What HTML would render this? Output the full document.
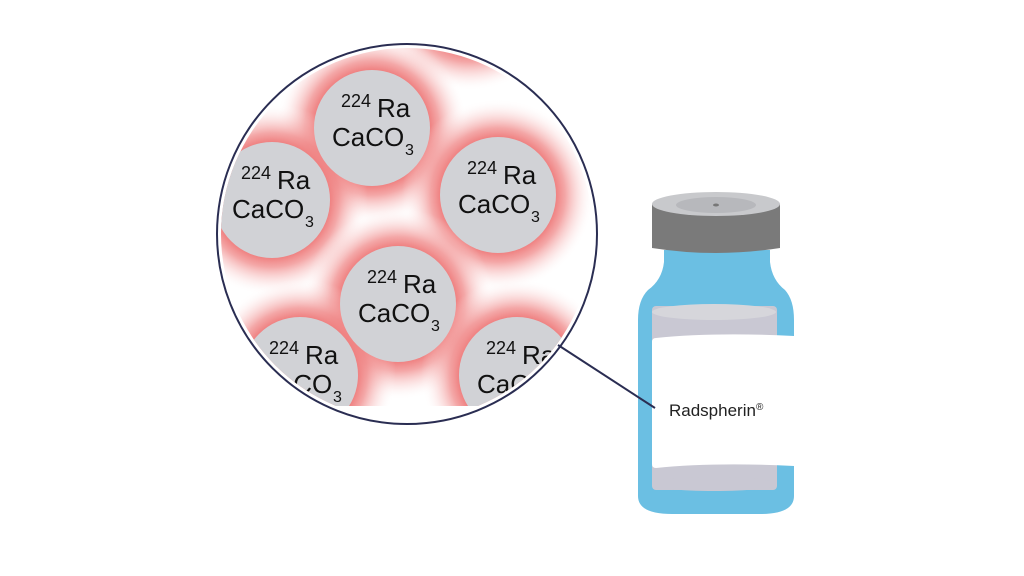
<!DOCTYPE html>
<html><head><meta charset="utf-8"><style>
html,body{margin:0;padding:0;background:#fff;}
svg{display:block;}
text{font-family:"Liberation Sans",sans-serif;fill:#111;}
.b text{stroke:#111;stroke-width:0.4;}
</style></head><body>
<svg width="1024" height="576" viewBox="0 0 1024 576" xmlns="http://www.w3.org/2000/svg">
<defs>
<clipPath id="cc"><circle cx="407" cy="234" r="186"/></clipPath>
<clipPath id="cr"><rect x="0" y="0" width="1024" height="406"/></clipPath>
<radialGradient id="glow" gradientUnits="objectBoundingBox">
<stop offset="0.6" stop-color="#ef8080" stop-opacity="1"/>
<stop offset="0.7" stop-color="#f08a8a" stop-opacity="0.75"/>
<stop offset="0.84" stop-color="#f6b5b5" stop-opacity="0.35"/>
<stop offset="1" stop-color="#fff" stop-opacity="0"/>
</radialGradient>
<g id="lbl"><text x="-31" y="-21" font-size="18">224</text><text x="5" y="-11" font-size="26">Ra</text><text x="-40" y="18" font-size="26">CaCO</text><text x="33" y="27" font-size="16">3</text></g>
</defs>
<g clip-path="url(#cr)"><g clip-path="url(#cc)">
<rect x="200" y="40" width="420" height="400" fill="#fff"/>
<g>
<circle cx="470" cy="-5" r="96" fill="url(#glow)"/>
<circle cx="372" cy="128" r="96" fill="url(#glow)"/>
<circle cx="272" cy="200" r="96" fill="url(#glow)"/>
<circle cx="498" cy="195" r="96" fill="url(#glow)"/>
<circle cx="398" cy="304" r="96" fill="url(#glow)"/>
<circle cx="300" cy="375" r="96" fill="url(#glow)"/>
<circle cx="517" cy="375" r="96" fill="url(#glow)"/>
</g>
<g fill="#d1d2d6">
<circle cx="470" cy="-5" r="58"/>
<circle cx="372" cy="128" r="58"/>
<circle cx="272" cy="200" r="58"/>
<circle cx="498" cy="195" r="58"/>
<circle cx="398" cy="304" r="58"/>
<circle cx="300" cy="375" r="58"/>
<circle cx="517" cy="375" r="58"/>
</g>
<g class="b">
<use href="#lbl" transform="translate(372,128)"/>
<use href="#lbl" transform="translate(272,200)"/>
<use href="#lbl" transform="translate(498,195)"/>
<use href="#lbl" transform="translate(398,304)"/>
<use href="#lbl" transform="translate(300,375)"/>
<use href="#lbl" transform="translate(517,375)"/>
</g>
</g></g>
<circle cx="407" cy="234" r="190" fill="none" stroke="#2a2d52" stroke-width="2"/>
<!-- vial -->
<path d="M664 250 L770 250 L770 262 Q772 280 785 290 Q794 300 794 320 L794 496 Q794 514 760 514 L672 514 Q638 514 638 496 L638 320 Q638 300 648 290 Q662 280 664 262 Z" fill="#6bbfe3"/>
<rect x="652" y="306" width="125" height="184" rx="4" fill="#c9c8d3"/>
<ellipse cx="714" cy="312" rx="62" ry="8" fill="#d6d6db"/>
<ellipse cx="714" cy="484" rx="62" ry="7" fill="#c9c8d3"/>
<path d="M656 338 Q714 332 794 336 L794 466 Q714 462 656 468 Q652 468 652 464 L652 342 Q652 338 656 338 Z" fill="#fff"/>
<text x="669" y="416" font-size="17" style="fill:#222">Radspherin<tspan font-size="10" dy="-6">®</tspan></text>
<path d="M652 204 L780 204 L780 248 Q716 258 652 248 Z" fill="#7a7a7a"/>
<ellipse cx="716" cy="204" rx="64" ry="12" fill="#c8c9cc"/>
<ellipse cx="716" cy="205" rx="40" ry="8" fill="#b7b8bc"/>
<ellipse cx="716" cy="205" rx="3" ry="1.5" fill="#777"/>
<line x1="558" y1="345" x2="655" y2="408" stroke="#2a2d52" stroke-width="2"/>
</svg>
</body></html>
